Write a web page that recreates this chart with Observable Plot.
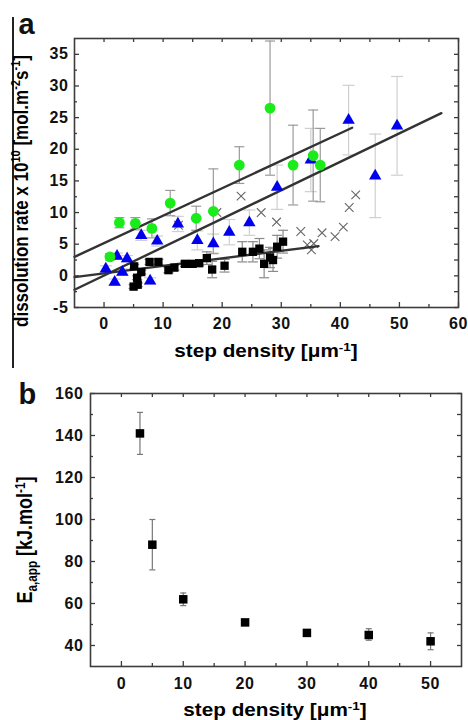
<!DOCTYPE html>
<html><head><meta charset="utf-8">
<script src="https://cdn.jsdelivr.net/npm/d3@7"></script>
<script src="https://cdn.jsdelivr.net/npm/@observablehq/plot@0.6"></script>
<style>
body{margin:0;background:#fff;}
#wrap{position:relative;width:468px;height:720px;overflow:hidden;font-family:"Liberation Sans",Arial,sans-serif;font-weight:bold;color:#000;}
.pl{position:absolute;left:0;}
.lab{position:absolute;white-space:nowrap;font-size:18px;line-height:1;transform-origin:0 0;}
.sup{position:relative;top:-0.5em;font-size:0.65em;}
.sub{position:relative;top:0.3em;font-size:0.65em;}
.vline{position:absolute;left:12px;top:17px;width:1.5px;height:351px;background:#222;}
</style></head><body><div id="wrap"></div>
<script>
// ---------- Panel a data ----------
const greenX = [1.0, 2.6, 5.3, 8.1, 11.2, 15.6, 18.5, 22.9, 28.1, 32.0, 35.4, 36.6];
const greenY = [3.0, 8.4, 8.3, 7.5, 11.5, 9.1, 10.2, 17.5, 26.5, 17.5, 19.0, 17.5];
const greenErr = [0.5, 0.8, 0.9, 1.5, 2.0, 1.9, 6.7, 2.9, 10.6, 6.3, 7.2, 5.8];

const blueX = [0.3, 1.8, 2.2, 3.1, 3.9, 6.3, 7.8, 9.0, 12.5, 15.8, 18.5, 21.2, 24.6, 29.3, 35.0, 41.4, 45.9, 49.6];
const blueY = [1.1, -1.0, 3.1, 0.6, 2.7, 6.4, -0.8, 5.5, 8.2, 5.6, 5.1, 6.9, 8.4, 14.0, 18.3, 24.6, 15.8, 23.7];
const blueErr = [0.5, 0.5, 0.5, 0.5, 0.5, 0.8, 0.5, 0.8, 1.2, 1.5, 1.5, 2.0, 2.0, 3.5, 5.0, 5.5, 6.6, 7.8];

const blackX = [5.1, 5.0, 5.7, 5.6, 6.3, 7.7, 9.2, 10.9, 11.9, 13.7, 15.0, 16.1, 17.4, 18.3, 20.4, 23.4, 25.2, 26.3, 27.1, 28.1, 28.6, 29.3, 30.3];
const blackY = [1.5, -1.7, -1.4, -0.3, 0.6, 2.2, 2.2, 0.9, 1.3, 1.9, 1.9, 2.0, 2.8, 1.0, 1.6, 3.8, 3.8, 4.3, 1.9, 2.9, 2.5, 4.6, 5.4];
const blackErr = [0.3, 0.3, 0.3, 0.3, 0.3, 0.4, 0.4, 0.4, 0.4, 0.4, 0.4, 0.4, 1.0, 1.3, 1.0, 1.6, 1.6, 1.6, 2.2, 1.6, 1.8, 1.8, 1.8];

const crossX = [12.6, 19.1, 23.2, 26.6, 29.2, 33.3, 34.4, 35.1, 35.5, 36.9, 39.1, 40.5, 41.5, 42.6];
const crossY = [8.0, 10.0, 12.6, 10.0, 8.5, 7.0, 4.9, 4.1, 5.1, 6.8, 6.2, 7.7, 10.8, 12.8];

const fitGreenX = [-5, 42.0], fitGreenY = [3.0, 23.4];
const fitBlueX = [-5, 57.1], fitBlueY = [-2.2, 25.7];
const fitBlackX = [-5, 36.3], fitBlackY = [-0.2, 4.7];

const xTicksA = [0, 10, 20, 30, 40, 50, 60];
const xMinorA = [5, 15, 25, 35, 45, 55];
const yTicksA = [-5, 0, 5, 10, 15, 20, 25, 30, 35];
const yMinorA = [-2.5, 2.5, 7.5, 12.5, 17.5, 22.5, 27.5, 32.5];

// ---------- Panel b data ----------
const bX = [3, 5, 10, 20, 30, 40, 50];
const bY = [141, 88, 62, 51, 46, 45, 42];
const bLo = [131, 76, 59, 50, 45, 42.5, 38];
const bHi = [151, 100, 65, 52, 47, 48, 46];

const xTicksB = [0, 10, 20, 30, 40, 50];
const xMinorB = [5, 15, 25, 35, 45];
const yTicksB = [40, 60, 80, 100, 120, 140, 160];
const yMinorB = [50, 70, 90, 110, 130, 150];

// ---------- helpers ----------
const capSym = {draw(ctx, size){ const w = Math.sqrt(size / Math.PI); ctx.moveTo(-w, 0); ctx.lineTo(w, 0); }};
function errMarks(rows, color, w){
  return [
    Plot.ruleX(rows, {x: "x", y1: "lo", y2: "hi", stroke: color, strokeWidth: 1.2}),
    Plot.dot(rows, {x: "x", y: "lo", symbol: capSym, r: w, stroke: color, strokeWidth: 1.2}),
    Plot.dot(rows, {x: "x", y: "hi", symbol: capSym, r: w, stroke: color, strokeWidth: 1.2})
  ];
}
function rowsOf(xs, ys, es){ return xs.map((x, i) => ({x, y: ys[i], lo: ys[i] - es[i], hi: ys[i] + es[i]})); }
function frameTicks(xMaj, xMin, yMaj, yMin, iw, ih, topAll){
  const o = {stroke: "#3c3c3c", strokeWidth: 1.3};
  const top = topAll ? xMaj.concat(xMin) : xMaj;
  return [
    Plot.ruleX(xMaj, {...o, insetTop: ih - 5}),
    Plot.ruleX(xMin, {...o, insetTop: ih - 3}),
    Plot.ruleX(top, {...o, insetBottom: ih - 4}),
    Plot.ruleY(yMaj, {...o, insetRight: iw - 5}),
    Plot.ruleY(yMin, {...o, insetRight: iw - 3}),
    Plot.ruleY(yMaj.concat(yMin), {...o, insetLeft: iw - 4}),
    Plot.frame({stroke: "#3c3c3c", strokeWidth: 1.6})
  ];
}
const baseStyle = {fontFamily: "Liberation Sans, Arial, sans-serif", fontSize: "16px", fontWeight: "bold", color: "#111", overflow: "visible", letterSpacing: "0.6px", background: "transparent"};

const wrap = document.getElementById("wrap");

// ---------- Panel a ----------
const mA = {top: 38, bottom: 33, left: 74, right: 10}, HA = 340;
const iwA = 468 - mA.left - mA.right, ihA = HA - mA.top - mA.bottom;
const green = rowsOf(greenX, greenY, greenErr);
const blue = rowsOf(blueX, blueY, blueErr);
const black = rowsOf(blackX, blackY, blackErr);
const crosses = crossX.map((x, i) => ({x, y: crossY[i]}));
const fit = (xs, ys) => xs.map((x, i) => ({x, y: ys[i]}));

const plotA = Plot.plot({
  width: 468, height: HA,
  marginTop: mA.top, marginBottom: mA.bottom, marginLeft: mA.left, marginRight: mA.right,
  x: {domain: [-5, 60]}, y: {domain: [-5, 37.5]},
  style: baseStyle,
  marks: [
    ...errMarks(blue, "#cfcfcf", 6),
    ...errMarks(green, "#9a9a9a", 5),
    ...errMarks(black, "#8a8a8a", 5),
    Plot.dot(crosses, {x: "x", y: "y", symbol: "times", r: 4, stroke: "#666", strokeWidth: 1.1}),
    Plot.line(fit(fitGreenX, fitGreenY), {x: "x", y: "y", stroke: "#333", strokeWidth: 2.4}),
    Plot.line(fit(fitBlueX, fitBlueY), {x: "x", y: "y", stroke: "#333", strokeWidth: 2.4}),
    Plot.line(fit(fitBlackX, fitBlackY), {x: "x", y: "y", stroke: "#333", strokeWidth: 2.4}),
    Plot.dot(black, {x: "x", y: "y", symbol: "square", r: 4.7, fill: "#000"}),
    Plot.dot(blue, {x: "x", y: "y", symbol: "triangle", r: 4.6, fill: "#0000ee"}),
    Plot.dot(green, {x: "x", y: "y", r: 5.4, fill: "#19ec19"}),
    ...frameTicks(xTicksA, xMinorA, yTicksA, yMinorA, iwA, ihA, true),
    Plot.axisX({ticks: xTicksA, tickSize: 0, tickPadding: 10, label: null, tickFormat: d => String(d)}),
    Plot.axisY({ticks: yTicksA, tickSize: 0, tickPadding: 6, label: null, tickFormat: d => String(d)}),
    Plot.text(["a"], {frameAnchor: "top-left", text: d => d, dx: -56, dy: -5, lineAnchor: "bottom", textAnchor: "start", fontSize: 29, fontWeight: "bold"})
  ]
});
plotA.classList.add("pl"); plotA.style.top = "0px"; plotA.style.position = "absolute";
wrap.appendChild(plotA);

// ---------- Panel b ----------
const mB = {top: 53, bottom: 54, left: 90, right: 7}, HB = 380;
const iwB = 468 - mB.left - mB.right, ihB = HB - mB.top - mB.bottom;
const bRows = bX.map((x, i) => ({x, y: bY[i], lo: bLo[i], hi: bHi[i]}));
const plotB = Plot.plot({
  width: 468, height: HB,
  marginTop: mB.top, marginBottom: mB.bottom, marginLeft: mB.left, marginRight: mB.right,
  x: {domain: [-5, 55]}, y: {domain: [30, 160]},
  style: baseStyle,
  marks: [
    ...errMarks(bRows, "#777", 3),
    Plot.dot(bRows, {x: "x", y: "y", symbol: "square", r: 4.8, fill: "#000"}),
    ...frameTicks(xTicksB, xMinorB, yTicksB, yMinorB, iwB, ihB, true),
    Plot.axisX({ticks: xTicksB, tickSize: 0, tickPadding: 11, label: null, tickFormat: d => String(d)}),
    Plot.axisY({ticks: yTicksB, tickSize: 0, tickPadding: 7, label: null, tickFormat: d => String(d)}),
    Plot.text(["b"], {frameAnchor: "top-left", text: d => d, dx: -72, dy: 10, lineAnchor: "bottom", textAnchor: "start", fontSize: 29, fontWeight: "bold"})
  ]
});
plotB.classList.add("pl"); plotB.style.top = "340px"; plotB.style.position = "absolute";
wrap.appendChild(plotB);

// ---------- HTML labels ----------
function addLabel(html, css){
  const d = document.createElement("div");
  d.className = "lab"; d.innerHTML = html;
  Object.assign(d.style, css);
  wrap.appendChild(d);
}
const vl = document.createElement("div"); vl.className = "vline"; wrap.appendChild(vl);
addLabel('dissolution rate x 10<span class="sup">10</span> [mol.m<span class="sup">-2</span>s<span class="sup">-1</span>]',
  {left: "21px", top: "191px", fontSize: "17px", transform: "scaleX(1.2) rotate(-90deg) translate(-50%,-50%)"});
addLabel('step density [\u03bcm<span class="sup">-1</span>]',
  {left: "266px", top: (357 - 15.2) + "px", transform: "scaleX(1.15) translateX(-50%)"});
addLabel('E<span class="sub">a,app</span> [kJ.mol<span class="sup">-1</span>]',
  {left: "25px", top: "540px", transform: "scaleX(1.2) rotate(-90deg) translate(-50%,-50%)"});
addLabel('step density [\u03bcm<span class="sup">-1</span>]',
  {left: "275px", top: (716 - 15.2) + "px", transform: "scaleX(1.15) translateX(-50%)"});
</script>
</body></html>
